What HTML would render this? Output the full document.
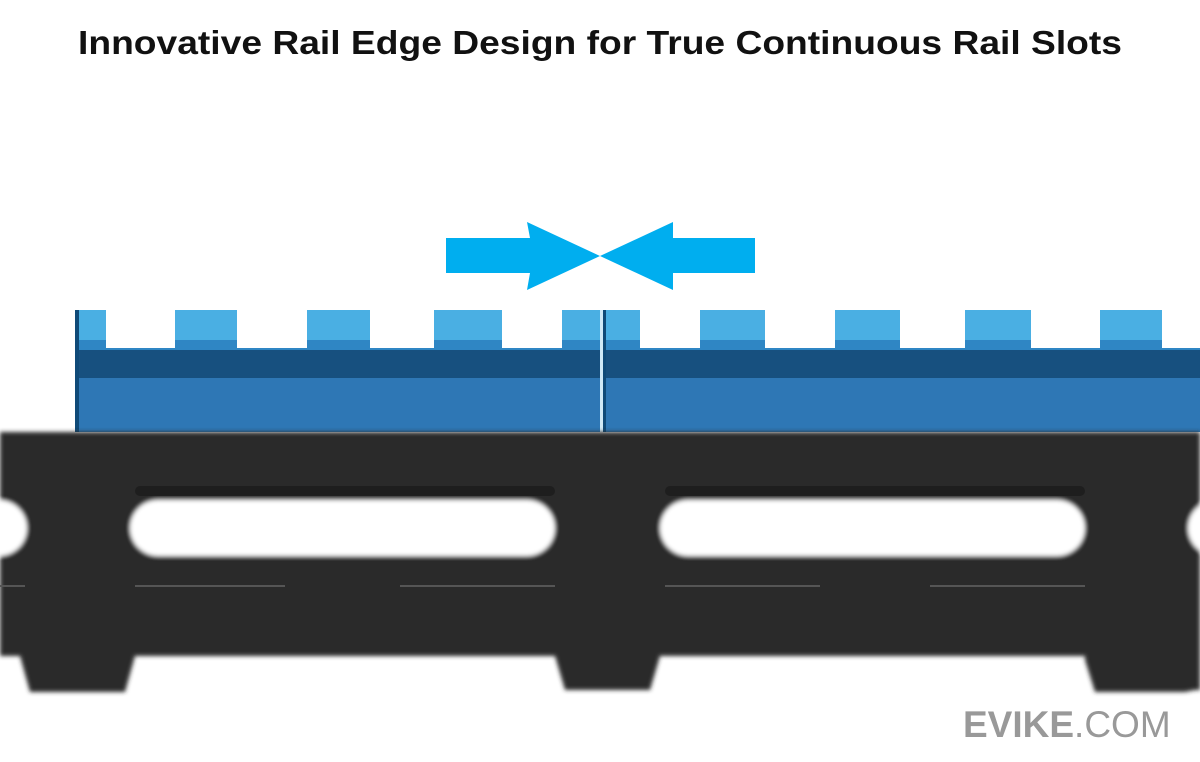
<!DOCTYPE html>
<html><head><meta charset="utf-8"><style>
html,body{margin:0;padding:0;background:#fff;width:1200px;height:762px;overflow:hidden}
svg{display:block}
</style></head><body>
<svg width="1200" height="762" viewBox="0 0 1200 762" xmlns="http://www.w3.org/2000/svg">
<defs>
<filter id="bl"><feGaussianBlur stdDeviation="2"/></filter>
</defs>
<rect width="1200" height="762" fill="#fff"/>
<text x="78" y="54" textLength="1044" lengthAdjust="spacingAndGlyphs" font-family="Liberation Sans, sans-serif" font-weight="bold" font-size="33" fill="#111">Innovative Rail Edge Design for True Continuous Rail Slots</text>
<!-- arrows -->
<polygon points="446,238 530,238 527,222 600,256 527,290 530,273 446,273" fill="#00aeef"/>
<polygon points="755,238 673,238 673,222 600,256 673,290 673,273 755,273" fill="#00aeef"/>
<!-- rails -->
<g>
<rect x="75" y="348" width="525" height="84" fill="#2e77b5"/>
<rect x="75" y="348" width="525" height="30" fill="#17507f"/>
<rect x="606" y="348" width="594" height="84" fill="#2e77b5"/>
<rect x="606" y="348" width="594" height="30" fill="#17507f"/>
<g fill="#4aafe3">
<rect x="75" y="310" width="31" height="40"/>
<rect x="175" y="310" width="62" height="40"/>
<rect x="307" y="310" width="63" height="40"/>
<rect x="434" y="310" width="68" height="40"/>
<rect x="562" y="310" width="38" height="40"/>
<rect x="606" y="310" width="34" height="40"/>
<rect x="700" y="310" width="65" height="40"/>
<rect x="835" y="310" width="65" height="40"/>
<rect x="965" y="310" width="66" height="40"/>
<rect x="1100" y="310" width="62" height="40"/>
</g>
<g fill="#2f86c4">
<rect x="75" y="340" width="525" height="10"/>
<rect x="606" y="340" width="594" height="10"/>
</g>
<g fill="#fff">
<rect x="106" y="310" width="69" height="38"/>
<rect x="237" y="310" width="70" height="38"/>
<rect x="370" y="310" width="64" height="38"/>
<rect x="502" y="310" width="60" height="38"/>
<rect x="640" y="310" width="60" height="38"/>
<rect x="765" y="310" width="70" height="38"/>
<rect x="900" y="310" width="65" height="38"/>
<rect x="1031" y="310" width="69" height="38"/>
<rect x="1162" y="310" width="38" height="38"/>
</g>
<rect x="75" y="310" width="4" height="122" fill="#0f4a78"/>
<rect x="600" y="310" width="3" height="122" fill="#cfe9f7"/>
<rect x="603" y="310" width="3" height="122" fill="#0f4a78"/>
</g>
<!-- black handguard -->
<g filter="url(#bl)">
<path d="M0,432 H1200 V690 H1195 L1185,692 H1095 L1085,660 V656 H660 L650,690 H565 L555,656 H135 L125,692 H30 L20,656 H0 Z" fill="#2a2a2a"/>
<rect x="130" y="500" width="425" height="56" rx="28" fill="#fff"/>
<rect x="660" y="500" width="425" height="56" rx="28" fill="#fff"/>
<rect x="-60" y="500" width="87" height="56" rx="28" fill="#fff"/>
<rect x="1188" y="500" width="87" height="56" rx="28" fill="#fff"/>
</g>
<g fill="#1c1c1c" opacity="0.8">
<rect x="135" y="486" width="420" height="10" rx="5"/>
<rect x="665" y="486" width="420" height="10" rx="5"/>
</g>
<g stroke="#555" stroke-width="2">
<line x1="0" y1="586" x2="25" y2="586"/>
<line x1="135" y1="586" x2="285" y2="586"/>
<line x1="400" y1="586" x2="555" y2="586"/>
<line x1="665" y1="586" x2="820" y2="586"/>
<line x1="930" y1="586" x2="1085" y2="586"/>
</g>
<text x="963" y="737" font-family="Liberation Sans, sans-serif" font-size="37" fill="#999"><tspan font-weight="bold">EVIKE</tspan><tspan>.COM</tspan></text>
</svg>
</body></html>
